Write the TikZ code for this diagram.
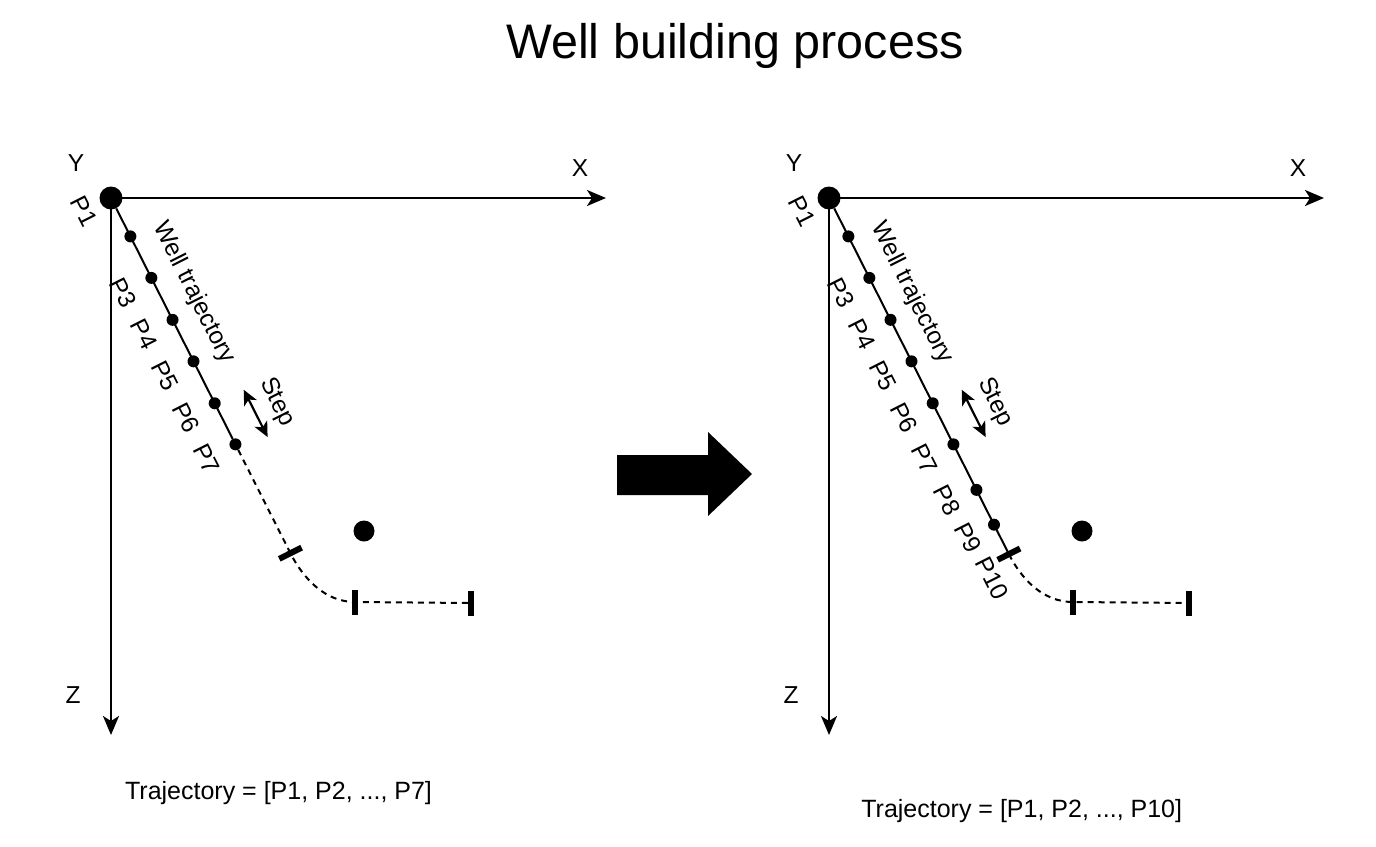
\documentclass[tikz,border=0pt]{standalone}
\usepackage{fontspec}
\setmainfont{Liberation Sans}
\usetikzlibrary{arrows.meta}

\begin{document}
\begin{tikzpicture}[x=1pt,y=1pt]
\tikzstyle{every node}+=[inner sep=0pt]
\tikzstyle{dot}=[circle,fill=black,minimum size=12pt]
\tikzstyle{bigdot}=[circle,fill=black,minimum size=23pt]
\tikzstyle{tick}=[rectangle,fill=black,minimum width=6pt,minimum height=25pt]
\tikzstyle{lbl}=[font=\fontsize{24.5}{29}\selectfont]
\tikzstyle{plbl}=[lbl,rotate=-63.2]
\tikzstyle{axis}=[line width=2.2pt,-{Stealth[length=19pt,width=16pt,inset=5pt]}]
\tikzstyle{traj}=[line width=2pt]
\tikzstyle{plan}=[line width=2pt,dash pattern=on 6pt off 5pt]
\tikzstyle{stepline}=[line width=2.2pt,{Stealth[length=15pt,width=14pt,inset=4pt]}-{Stealth[length=15pt,width=14pt,inset=4pt]}]
\tikzstyle{bottom}=[font=\fontsize{25}{30}\selectfont,anchor=base]
\useasboundingbox (0,0) rectangle (1376,-846);
\node[font=\fontsize{48.5}{58}\selectfont,anchor=base] (title) at (735,-58) {Well building process};

% before
\node[bigdot] (o) at (111,-198) {};
\coordinate (xend) at (606,-198);
\coordinate (zend) at (111,-735);
\draw[axis] (o.center) -- (xend);
\draw[axis] (o.center) -- (zend);
\node[lbl] (ylab) at (76,-163) {Y};
\node[lbl] (xlab) at (580,-168) {X};
\node[lbl] (zlab) at (73,-695) {Z};
\begin{scope}[shift={(111,-198)},rotate=-63.2]
\node[dot] (a2) at (43,0) {};
\node[dot] (a3) at (89.5,0) {};
\node[dot] (a4) at (136.5,0) {};
\node[dot] (a5) at (183,0) {};
\node[dot] (a6) at (230,0) {};
\node[dot] (a7) at (276,0) {};
\node[tick,rotate=-63.2] (t1) at (398,0) {};
\node[plbl] (l1) at (0,-30) {P1};
\node[plbl] (l3) at (90,-32) {P3};
\node[plbl] (l4) at (136.5,-32) {P4};
\node[plbl] (l5) at (183,-32) {P5};
\node[plbl] (l6) at (230,-32) {P6};
\node[plbl] (l7) at (276,-32) {P7};
\node[plbl] (wt) at (122,31) {Well trajectory};
\node[plbl] (st) at (257,56) {Step};
\coordinate (s1) at (231,32);
\coordinate (s2) at (284,32);
\end{scope}
\node[tick] (t2) at (355,-602) {};
\node[tick] (t3) at (471,-603) {};
\node[bigdot,minimum size=21pt] (goal) at (364,-531) {};
\draw[traj] (o) -- (a7);
\draw[plan] (a7) -- (t1.center) .. controls +(-63.2:28) and +(-30,0) .. (t2.center) -- (t3.center);
\draw[stepline] (s1) -- (s2);
\node[bottom] (res) at (278.5,-799) {Trajectory = [P1, P2, ..., P7]};

\fill (617,-455) -- (708,-455) -- (708,-432) -- (752,-474) -- (708,-516) -- (708,-495) -- (617,-495) -- cycle;

% after
\begin{scope}[shift={(718,0)}]
\node[bigdot] (ro) at (111,-198) {};
\coordinate (rxend) at (606,-198);
\coordinate (rzend) at (111,-735);
\draw[axis] (ro.center) -- (rxend);
\draw[axis] (ro.center) -- (rzend);
\node[lbl] (rylab) at (76,-163) {Y};
\node[lbl] (rxlab) at (580,-168) {X};
\node[lbl] (rzlab) at (73,-695) {Z};
\begin{scope}[shift={(111,-198)},rotate=-63.2]
\node[dot] (b2) at (43,0) {};
\node[dot] (b3) at (89.5,0) {};
\node[dot] (b4) at (136.5,0) {};
\node[dot] (b5) at (183,0) {};
\node[dot] (b6) at (230,0) {};
\node[dot] (b7) at (276,0) {};
\node[dot] (b8) at (327,0) {};
\node[dot] (b9) at (366,0) {};
\node[tick,rotate=-63.2] (rt1) at (399,0) {};
\node[plbl] (m1) at (0,-30) {P1};
\node[plbl] (m3) at (90,-32) {P3};
\node[plbl] (m4) at (136.5,-32) {P4};
\node[plbl] (m5) at (183,-32) {P5};
\node[plbl] (m6) at (230,-32) {P6};
\node[plbl] (m7) at (276,-32) {P7};
\node[plbl] (m8) at (323,-31) {P8};
\node[plbl] (m9) at (366,-29) {P9};
\node[plbl] (m10) at (413,-26) {P10};
\node[plbl] (rwt) at (122,31) {Well trajectory};
\node[plbl] (rst) at (257,56) {Step};
\coordinate (rs1) at (231,32);
\coordinate (rs2) at (284,32);
\end{scope}
\node[tick] (rt2) at (355,-602) {};
\node[tick] (rt3) at (471,-603) {};
\node[bigdot,minimum size=21pt] (rgoal) at (364,-531) {};
\draw[traj] (ro) -- (rt1.center);
\draw[plan] (rt1.center) .. controls +(-63.2:28) and +(-30,0) .. (rt2.center) -- (rt3.center);
\draw[stepline] (rs1) -- (rs2);
\node[bottom] (rres) at (303.7,-817) {Trajectory = [P1, P2, ..., P10]};
\end{scope}
\end{tikzpicture}
\end{document}
